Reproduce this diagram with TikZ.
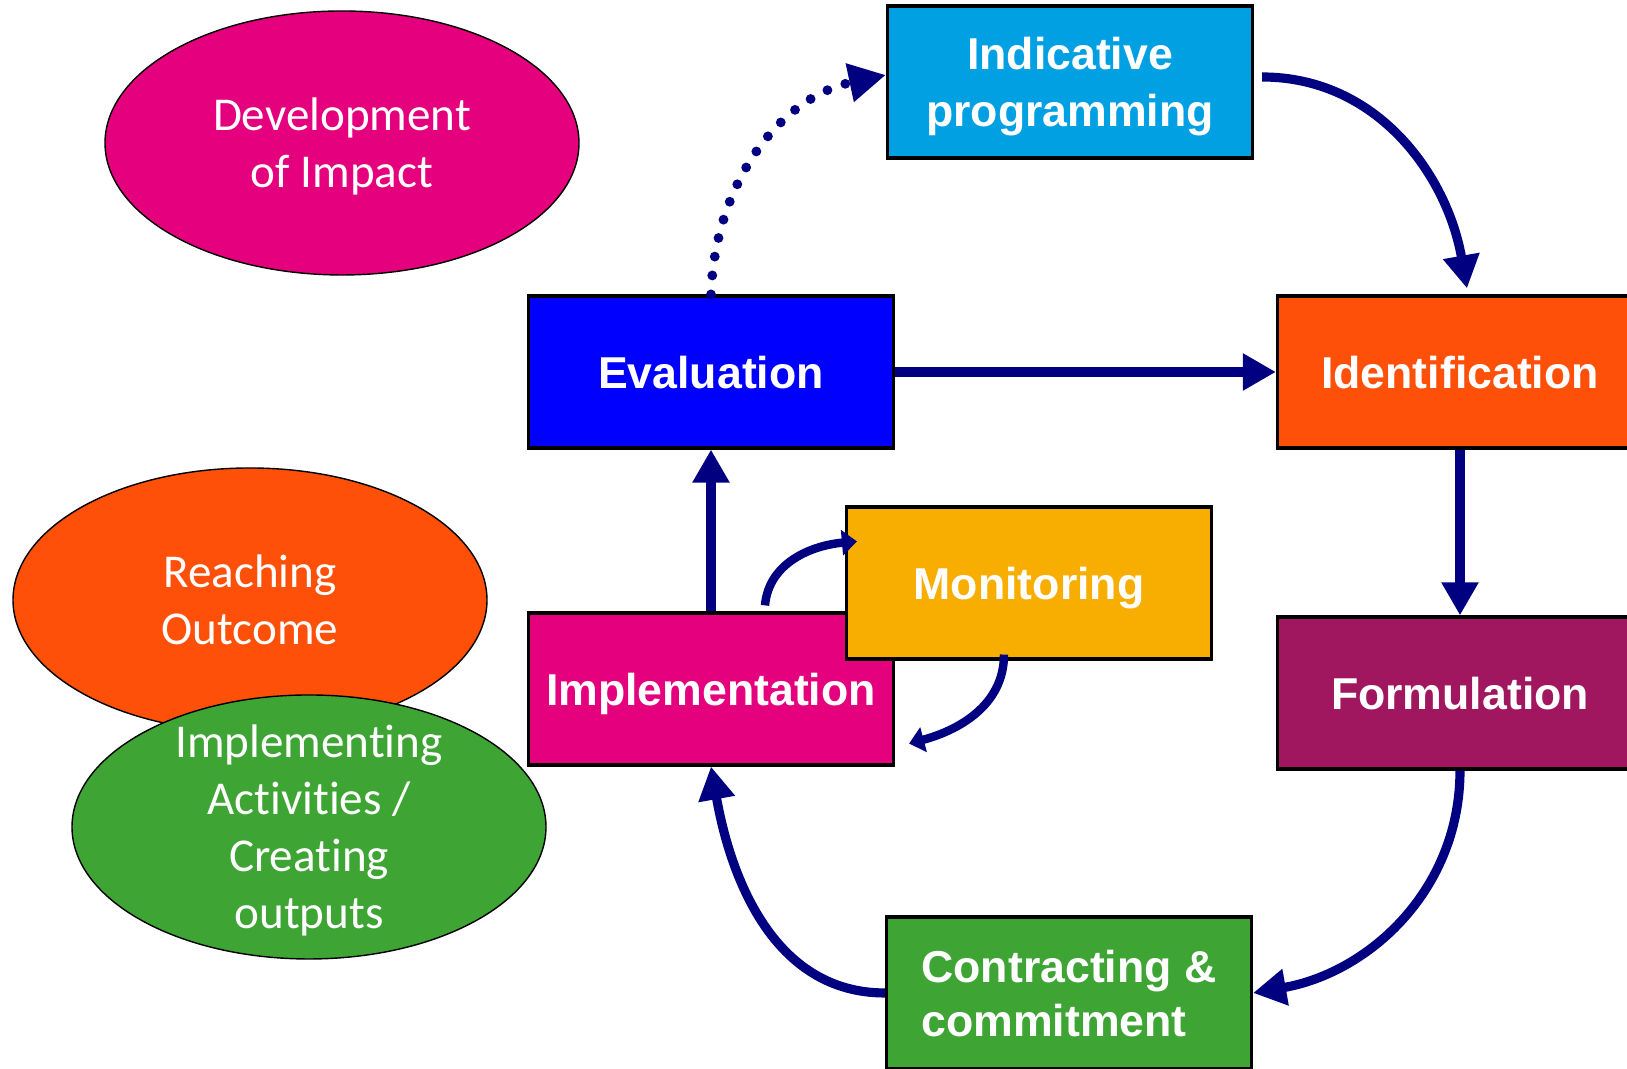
\documentclass[tikz,border=0pt]{standalone}
\usepackage{fontspec}
\setmainfont{Liberation Sans}
\newfontfamily\calibri[RawFeature={-liga}]{Carlito}
\usetikzlibrary{arrows.meta,shapes.geometric}
\definecolor{navyarr}{RGB}{0,0,128}
\definecolor{indcol}{RGB}{0,160,227}
\definecolor{evalcol}{RGB}{0,0,255}
\definecolor{identcol}{RGB}{255,80,10}
\definecolor{moncol}{RGB}{248,174,0}
\definecolor{implcol}{RGB}{229,0,126}
\definecolor{formcol}{RGB}{160,23,96}
\definecolor{contrcol}{RGB}{62,165,53}
\tikzset{
  box/.style={draw=black,line width=.9pt,minimum width=3.65cm,minimum height=1.52cm,
    text=white,text depth=0pt,font=\bfseries\fontsize{12.7}{16.2}\selectfont,align=center},
  blob/.style={ellipse,draw=black,line width=.4pt,minimum width=4.74cm,minimum height=2.64cm,
    inner sep=0,text=white,text depth=0pt,font=\calibri\fontsize{13.4}{16.2}\selectfont,align=center},
  flow/.style={draw=navyarr,line width=2.6pt,-{Triangle[length=.33cm,width=.35cm]}},
  smallflow/.style={draw=navyarr,line width=2.4pt,-{Triangle[length=.15cm,width=.25cm]}},
  dotflow/.style={draw=navyarr,line width=2.8pt,line cap=round,dash pattern=on 0pt off .19cm,
    -{Triangle[length=.37cm,width=.37cm]}}
}
\begin{document}
\begin{tikzpicture}
\useasboundingbox(0,0)rectangle(16.27,10.69);
\clip(0,0)rectangle(16.27,10.69);
%ellipses
\node[blob,fill=implcol](dev)at(3.42,9.26){Development\\of Impact};
\node[blob,fill=identcol](reach)at(2.50,4.69){Reaching\\Outcome};
\node[blob,fill=contrcol,inner ysep=-.3cm](act)at(3.09,2.42){Implementing\\Activities /\\Creating\\outputs};
%cycle
\node[box,fill=indcol](ind)at(10.70,9.87){Indicative\\programming};
\node[box,fill=evalcol](eval)at(7.11,6.97){Evaluation};
\node[box,fill=identcol](ident)at(14.60,6.97){Identification};
\node[box,fill=formcol](form)at(14.60,3.76){Formulation};
\node[box,fill=contrcol,align=left,font=\bfseries\fontsize{12.7}{15.4}\selectfont](contr)at(10.69,0.76){Contracting \&\\commitment};
\node[box,fill=implcol](impl)at(7.11,3.80){Implementation};
\node[box,fill=moncol](mon)at(10.29,4.86){Monitoring};
%arrows
\draw[flow]([xshift=.08cm,yshift=.05cm]ind.east)to[out=0,in=100]([xshift=.07cm,yshift=.06cm]ident.north);
\draw[flow](eval.east)--(ident.west);
\draw[flow](ident.south)--(form.north);
\draw[flow](form.south)to[out=-90,in=10](contr.east);
\draw[flow](contr.west)to[out=180,in=-80](impl.south);
\draw[flow](impl.north)--(eval.south);
\draw[dotflow](eval.north)to[out=88,in=192]([yshift=.07cm]ind.west);
%monitoring loop
\draw[smallflow]([xshift=.54cm,yshift=.06cm]impl.north)to[out=85,in=185]([xshift=.12cm,yshift=-.36cm]mon.north west);
\draw[smallflow]([xshift=-.25cm,yshift=.06cm]mon.south)to[out=-90,in=15]([xshift=.14cm,yshift=.23cm]impl.south east);
\end{tikzpicture}
\end{document}
